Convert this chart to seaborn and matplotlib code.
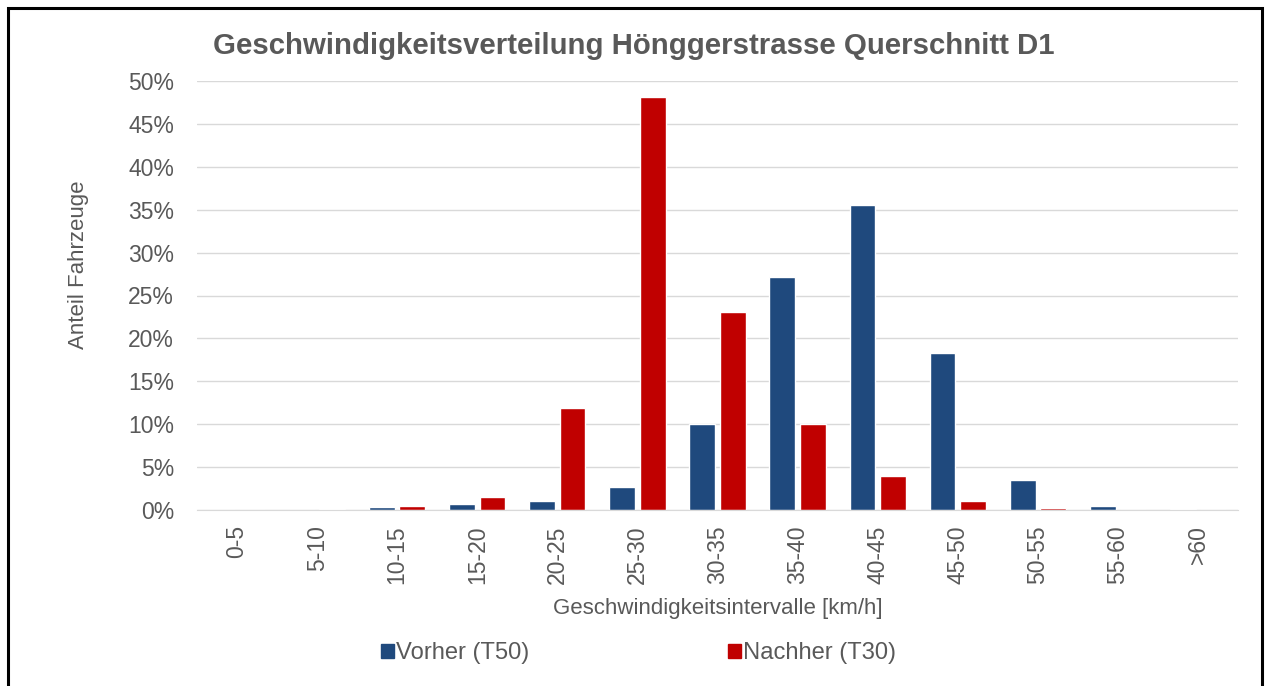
import matplotlib
matplotlib.use('Agg')
import matplotlib.pyplot as plt
import seaborn as sns
import pandas as pd
from matplotlib.patches import Rectangle
from matplotlib.ticker import FuncFormatter

intervals = ['0-5', '5-10', '10-15', '15-20', '20-25', '25-30', '30-35',
             '35-40', '40-45', '45-50', '50-55', '55-60', '>60']
vorher = [0.0, 0.0, 0.4, 0.7, 1.0, 2.7, 10.0, 27.1, 35.6, 18.3, 3.5, 0.5, 0.1]
nachher = [0.0, 0.1, 0.5, 1.5, 11.9, 48.1, 23.1, 10.0, 4.0, 1.0, 0.2, 0.0, 0.0]
series = ['Vorher (T50)', 'Nachher (T30)']
colors = ['#1F497D', '#C00000']

df = pd.DataFrame({
    'intervall': intervals * 2,
    'anteil': vorher + nachher,
    'serie': [series[0]] * len(intervals) + [series[1]] * len(intervals),
})

sns.set_style('white')
plt.rcParams['font.family'] = ['Liberation Sans', 'DejaVu Sans']
text_col = '#595959'

fig = plt.figure(figsize=(12.66, 6.86), dpi=100)
ax = fig.add_axes([197 / 1266, 1 - 510 / 686, (1238 - 197) / 1266, (510 - 81) / 686])

sns.barplot(data=df, x='intervall', y='anteil', hue='serie', palette=colors,
            width=0.76, gap=0.15, ax=ax, legend=False, saturation=1)

ax.set_ylim(0, 50)
ax.set_yticks(range(0, 51, 5))
ax.yaxis.set_major_formatter(FuncFormatter(lambda v, p: f'{v:.0f}%'))
ax.grid(axis='y', color='#d9d9d9', linewidth=1)
ax.set_axisbelow(True)
for s in ['top', 'right', 'left']:
    ax.spines[s].set_visible(False)
ax.spines['bottom'].set_color('#d9d9d9')
ax.tick_params(axis='both', length=0, labelsize=16.5, colors=text_col)
ax.tick_params(axis='y', pad=16.5)
ax.tick_params(axis='x', labelrotation=90, pad=11)

ax.set_xlabel('Geschwindigkeitsintervalle [km/h]', fontsize=16, color=text_col, labelpad=10)
ax.set_ylabel('Anteil Fahrzeuge', fontsize=16, color=text_col)
ax.yaxis.set_label_coords(-0.104, 0.571)

fig.text(0.501, 1 - 46 / 686, 'Geschwindigkeitsverteilung Hönggerstrasse Querschnitt D1',
         ha='center', va='center', fontsize=21.2, fontweight='bold', color=text_col)

handles = [Rectangle((0, 0), 1, 1, color=c) for c in colors]
fig.legend(handles, series, loc='center', bbox_to_anchor=(0.5044, 1 - 653 / 686), ncol=2,
           frameon=False, fontsize=17.1, labelcolor=text_col, handlelength=0.525,
           handleheight=0.525, handletextpad=0.095, columnspacing=8.37)

fig.patches.append(Rectangle((8 / 1266, -0.05), 1254 / 1266, 1 - 8 / 686 + 0.05,
                             transform=fig.transFigure, fill=False,
                             edgecolor='black', linewidth=2.2))

fig.savefig('out.png', dpi=100)
